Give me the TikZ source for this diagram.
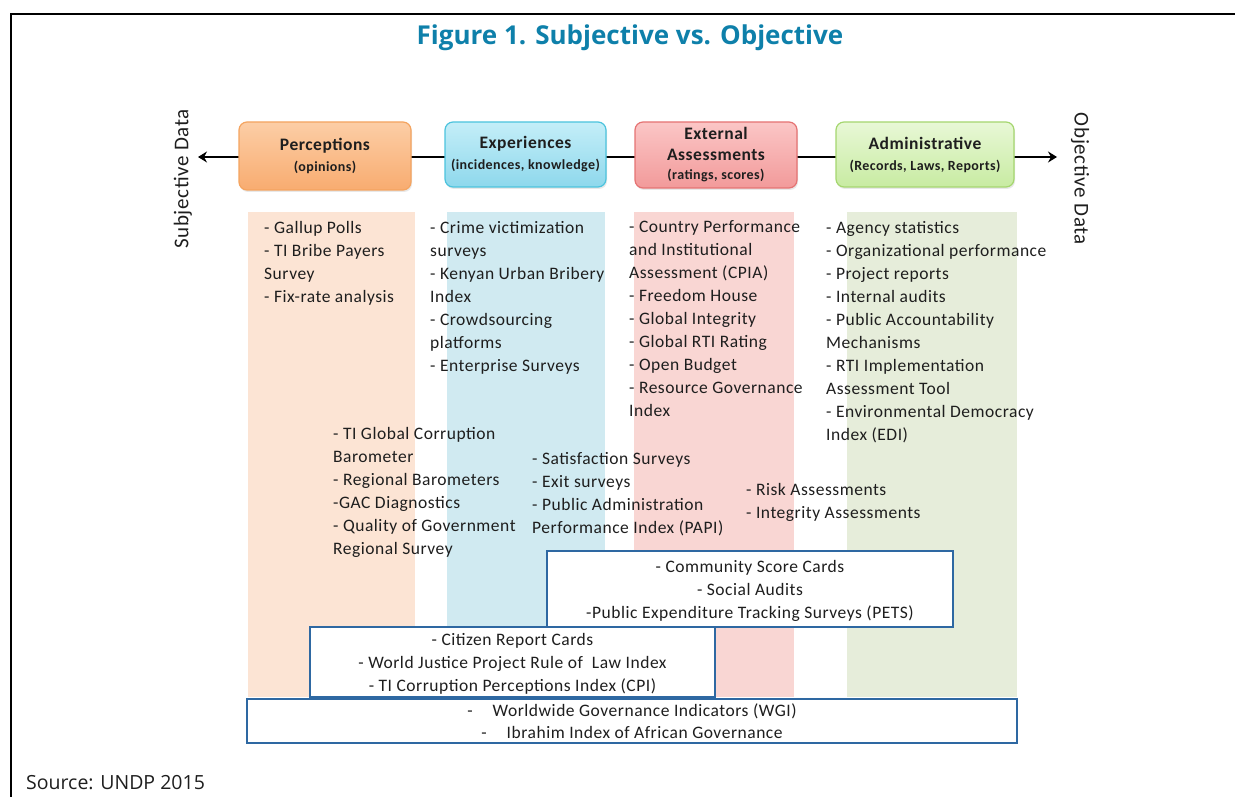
\documentclass[tikz,border=0pt]{standalone}
\usepackage{fontspec}
\setmainfont{Carlito}[LetterSpace=3]
\newfontfamily\titlefont{Open Sans}
\usetikzlibrary{arrows.meta,shadows}
\definecolor{titleblue}{RGB}{14,128,170}
\definecolor{boxblue}{RGB}{46,104,162}
\definecolor{bandO}{RGB}{252,228,212}
\definecolor{bandC}{RGB}{208,234,241}
\definecolor{bandR}{RGB}{249,214,211}
\definecolor{bandG}{RGB}{230,237,218}
\definecolor{txt}{RGB}{30,30,30}
\definecolor{oTop}{RGB}{252,206,166}
\definecolor{oBot}{RGB}{248,172,112}
\definecolor{oBrd}{RGB}{244,164,96}
\definecolor{cTop}{RGB}{196,238,248}
\definecolor{cBot}{RGB}{142,216,236}
\definecolor{cBrd}{RGB}{76,195,221}
\definecolor{rTop}{RGB}{251,198,198}
\definecolor{rBot}{RGB}{242,154,154}
\definecolor{rBrd}{RGB}{229,115,115}
\definecolor{gTop}{RGB}{232,248,214}
\definecolor{gBot}{RGB}{200,235,162}
\definecolor{gBrd}{RGB}{165,214,111}
\tikzset{
  hdr/.style={draw, line width=1.2pt, rounded corners=8pt, align=center, inner sep=0pt,
    text=txt, font=\bfseries\fontsize{17.5}{21}\selectfont,
    drop shadow={opacity=0.18, shadow xshift=1pt, shadow yshift=-2pt}},
  listtext/.style={anchor=north west, inner sep=0pt, align=left, text=txt,
    font=\fontsize{17.5}{23}\selectfont},
  outbox/.style={draw=boxblue, line width=2.5pt, fill=white, inner sep=0pt, align=center,
    text=txt, font=\fontsize{17.5}{23}\selectfont},
  sidelabel/.style={inner sep=0pt, text=txt, font=\fontsize{21}{24}\selectfont},
  arrowline/.style={line width=2.5pt, {Stealth[length=9pt,width=11pt,inset=3pt]}-{Stealth[length=9pt,width=11pt,inset=3pt]}}
}
\newcommand{\subt}[1]{{\fontsize{14}{16}\selectfont #1}}
\begin{document}
\begin{tikzpicture}[x=1pt,y=-1pt]
\useasboundingbox (0,0) rectangle (1235,797);
% frame
\draw[line width=2.8pt] (11,797) -- (11,14) -- (1235,14);
% title
\node[inner sep=0pt, text=titleblue, font=\titlefont\bfseries\fontsize{26}{30}\selectfont] (title) at (630,38) {Figure 1. Subjective vs. Objective};
% bands
\fill[bandO] (248,212) rectangle (415,697);
\fill[bandC] (447,212) rectangle (605,697);
\fill[bandR] (634,212) rectangle (794,697);
\fill[bandG] (847,212) rectangle (1017,697);
% arrow
\coordinate (arrL) at (198,157);
\coordinate (arrR) at (1057,157);
\draw[arrowline] (arrL) -- (arrR);
% headers
\node[hdr, top color=oTop, bottom color=oBot, draw=oBrd, minimum width=172pt, minimum height=68pt] (hP) at (325,156) {Perceptions\\[0pt]\subt{(opinions)}};
\node[hdr, top color=cTop, bottom color=cBot, draw=cBrd, minimum width=161pt, minimum height=65pt] (hE) at (525.5,154.5) {Experiences\\[0pt]\subt{(incidences, knowledge)}};
\node[hdr, top color=rTop, bottom color=rBot, draw=rBrd, minimum width=162pt, minimum height=66pt] (hX) at (716,155) {External\\Assessments\\[-2pt]\subt{(ratings, scores)}};
\node[hdr, top color=gTop, bottom color=gBot, draw=gBrd, minimum width=178pt, minimum height=65pt] (hA) at (925,154.5) {Administrative\\[0pt]\subt{(Records, Laws, Reports)}};
% side labels
\node[sidelabel, rotate=90] (subj) at (183,179) {Subjective Data};
\node[sidelabel, rotate=-90] (obj) at (1080,179) {Objective Data};
% columns
\node[listtext] (c1) at (264,217) {\strut- Gallup Polls\\- TI Bribe Payers\\Survey\\- Fix-rate analysis};
\node[listtext] (c2) at (430,217) {\strut- Crime victimization\\surveys\\- Kenyan Urban Bribery\\Index\\- Crowdsourcing\\platforms\\- Enterprise Surveys};
\node[listtext] (c3) at (629,216) {\strut- Country Performance\\and Institutional\\Assessment (CPIA)\\- Freedom House\\- Global Integrity\\- Global RTI Rating\\- Open Budget\\- Resource Governance\\Index};
\node[listtext] (c4) at (826,217) {\strut- Agency statistics\\- Organizational performance\\- Project reports\\- Internal audits\\- Public Accountability\\Mechanisms\\- RTI Implementation\\Assessment Tool\\- Environmental Democracy\\Index (EDI)};
\node[listtext] (m1) at (333,423) {\strut- TI Global Corruption\\Barometer\\- Regional Barometers\\-GAC Diagnostics\\- Quality of Government\\Regional Survey};
\node[listtext] (m2) at (532,448) {\strut- Satisfaction Surveys\\- Exit surveys\\- Public Administration\\Performance Index (PAPI)};
\node[listtext] (m3) at (746,479) {\strut- Risk Assessments\\- Integrity Assessments};
% boxes
\node[outbox, minimum width=406pt, minimum height=76pt] (bCom) at (750,589) {};
\node[inner sep=0pt, align=center, text=txt, font=\fontsize{17.5}{23}\selectfont] (tCom) at (750,591) {\strut- Community Score Cards\\- Social Audits\\-Public Expenditure Tracking Surveys (PETS)\strut};
\node[outbox, minimum width=405pt, minimum height=70pt] (bCit) at (512.5,662) {};
\node[inner sep=0pt, align=center, text=txt, font=\fontsize{17.5}{23}\selectfont] (tCit) at (512.5,664) {\strut- Citizen Report Cards\\- World Justice Project Rule of\ \ Law Index\\- TI Corruption Perceptions Index (CPI)\strut};
\node[outbox, minimum width=770pt, minimum height=44pt] (bWGI) at (632,721) {};
\node[inner sep=0pt, align=center, text=txt, font=\fontsize{17.5}{22}\selectfont] (tWGI) at (632,723) {\strut-\hspace{20pt}Worldwide Governance Indicators (WGI)\\-\hspace{20pt}Ibrahim Index of African Governance\strut};
% source
\node[anchor=west, inner sep=0pt, text=txt, font=\titlefont\fontsize{19.5}{22}\selectfont] (src) at (26,783) {Source: UNDP 2015};
\end{tikzpicture}
\end{document}
